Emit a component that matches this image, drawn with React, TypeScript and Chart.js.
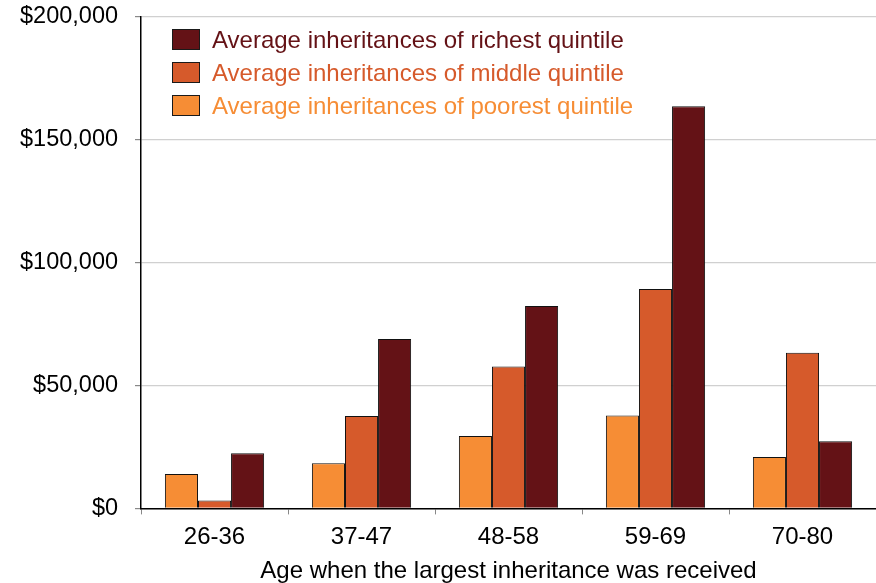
import React, { useEffect, useRef } from "react";
import { Chart, registerables } from "chart.js";

Chart.register(...registerables);

const categories = ["26-36", "37-47", "48-58", "59-69", "70-80"];
const poorest = [14000, 18400, 29500, 37800, 20900];
const middle = [3200, 37600, 57800, 89300, 63400];
const richest = [22400, 68900, 82400, 163700, 27300];
const seriesLabels = [
  "Average inheritances of poorest quintile",
  "Average inheritances of middle quintile",
  "Average inheritances of richest quintile",
];
const seriesColors = ["#F68D35", "#D65A2B", "#641216"];
const xTitle = "Age when the largest inheritance was received";

const FONT = '"Liberation Sans", Arial, Helvetica, sans-serif';

const insideLegend = {
  id: "insideLegend",
  afterDraw(chart: any) {
    const { ctx, chartArea } = chart;
    const ds = chart.data.datasets;
    ctx.save();
    ctx.font = `24px ${FONT}`;
    const order = [2, 1, 0];
    order.forEach((di, k) => {
      const d = ds[di];
      const x = Math.round(chartArea.left + 31);
      const y = Math.round(chartArea.top + 12 + k * 33);
      ctx.fillStyle = d.backgroundColor;
      ctx.fillRect(x, y, 27, 20);
      ctx.strokeStyle = "#1a1a1a";
      ctx.lineWidth = 1;
      ctx.strokeRect(x + 0.5, y + 0.5, 27, 20);
      ctx.fillStyle = d.backgroundColor;
      ctx.textBaseline = "alphabetic";
      ctx.textAlign = "left";
      ctx.fillText(d.label, x + 40, y + 19);
    });
    ctx.restore();
  },
};

export default function App() {
  const ref = useRef<HTMLCanvasElement | null>(null);

  useEffect(() => {
    document.body.style.margin = "0";
    const canvas = ref.current;
    if (!canvas) return;
    const values = [poorest, middle, richest];
    const chart = new Chart(canvas, {
      type: "bar",
      data: {
        labels: categories,
        datasets: values.map((v, i) => ({
          label: seriesLabels[i],
          data: v,
          backgroundColor: seriesColors[i],
          borderColor: "#111111",
          borderWidth: 1,
          categoryPercentage: 0.675,
          barPercentage: 1.0,
        })),
      },
      options: {
        responsive: false,
        animation: false,
        devicePixelRatio: 1,
        layout: { padding: { left: 3, top: 17, right: 0, bottom: -3 } },
        plugins: {
          legend: { display: false },
          tooltip: { enabled: false },
        },
        scales: {
          x: {
            grid: {
              display: true,
              drawOnChartArea: false,
              drawTicks: true,
              tickLength: 6,
              tickColor: "#888888",
              offset: true,
            },
            border: { display: true, color: "#000000", width: 1.5 },
            ticks: {
              color: "#000000",
              font: { family: FONT, size: 24 },
              padding: 9,
            },
            title: {
              display: true,
              text: xTitle,
              color: "#000000",
              font: { family: FONT, size: 24 },
              padding: { top: -4, bottom: 0 },
            },
          },
          y: {
            min: 0,
            max: 200000,
            afterFit: (scale: any) => {
              scale.paddingTop = 0;
              scale.paddingBottom = 0;
            },
            grid: {
              color: "#d0d0d0",
              lineWidth: 1.2,
              tickLength: 6,
              tickColor: "#888888",
            },
            border: { display: true, color: "#000000", width: 1.5 },
            ticks: {
              stepSize: 50000,
              color: "#000000",
              font: { family: FONT, size: 23.5 },
              padding: 17,
              callback: (v: any) => "$" + Number(v).toLocaleString("en-US"),
            },
          },
        },
      },
      plugins: [insideLegend],
    });
    return () => chart.destroy();
  }, []);

  return (
    <div style={{ width: 876, height: 583 }}>
      <canvas ref={ref} width={876} height={583} style={{ display: "block" }} />
    </div>
  );
}
